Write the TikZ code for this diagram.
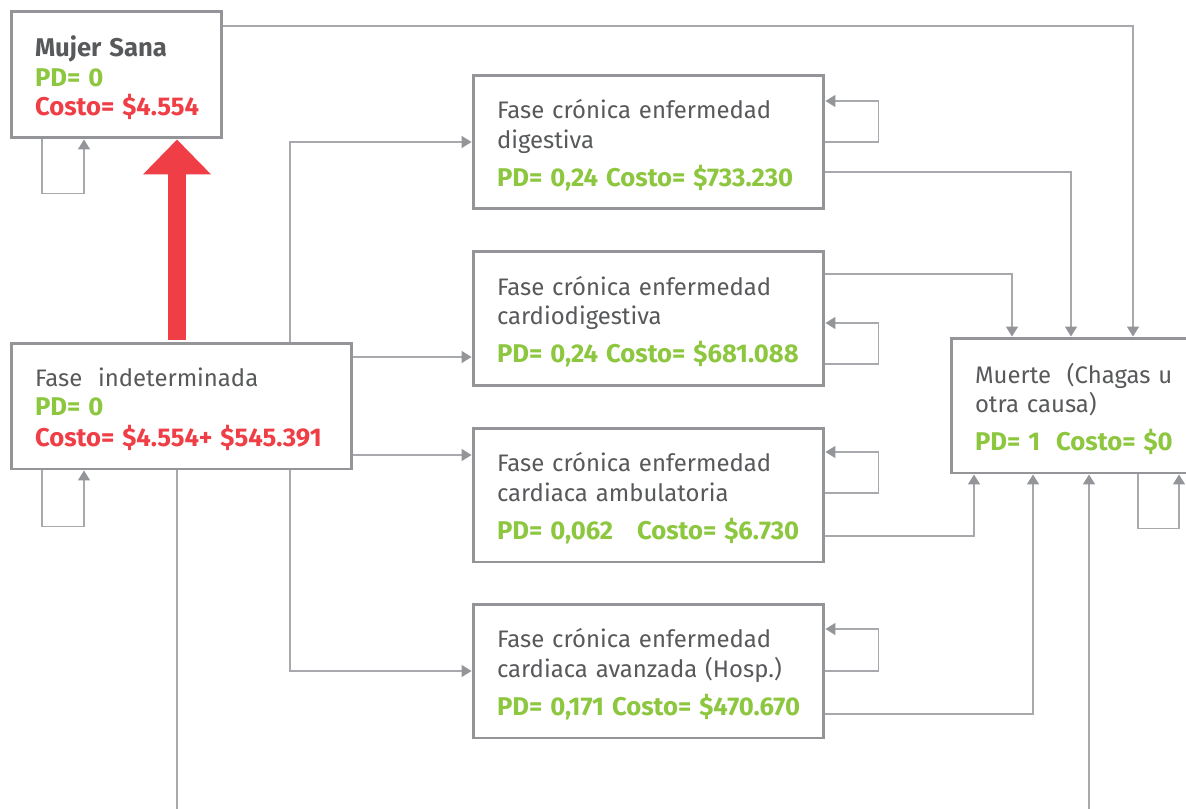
\documentclass[tikz,border=0pt]{standalone}
\usepackage{fontspec}
\setmainfont{Fira Sans}
\usetikzlibrary{arrows.meta}
\definecolor{verde}{HTML}{8DC63F}
\definecolor{rojo}{HTML}{EF3E46}
\definecolor{texto}{HTML}{58595B}
\definecolor{borde}{HTML}{939598}
\definecolor{linea}{HTML}{A7A9AC}
\tikzset{
  caja/.style={draw=borde, line width=1.7pt, fill=white, align=left, text=texto,
    inner xsep=0.48cm, inner ysep=0pt, font=\fontsize{13.6}{16.6}\selectfont,
    execute at end node={\par\vspace*{-3.6pt}}},
  cronica/.style={caja, minimum width=7.02cm, text width=6.06cm, minimum height=2.68cm},
  link/.style={draw=linea, line width=0.85pt, -{Triangle[length=0.2cm, width=0.24cm, color=borde]}},
  flecha/.style={draw=rojo, line width=0.36cm, -{Triangle[length=0.7cm, width=1.32cm]}, shorten <=1pt}
}
\newcommand{\negrita}[1]{\mbox{\fontsize{14.6}{16.6}\selectfont\bfseries #1}}
\newcommand{\pd}[1]{\textcolor{verde}{\negrita{#1}}}
\newcommand{\costo}[1]{\textcolor{rojo}{\negrita{#1}}}
\begin{document}
\begin{tikzpicture}[x=0.02cm, y=-0.02cm]
\useasboundingbox[fill=white] (0,0) rectangle (1186,808);

% estados
\node[caja, minimum width=4.22cm, text width=3.26cm, minimum height=2.54cm] (sana) at (116.5,74.5)
  {\negrita{Mujer Sana}\\ \pd{PD= 0}\\ \costo{Costo= \$4.554}};
\node[caja, minimum width=6.82cm, text width=5.86cm, minimum height=2.52cm] (indet) at (181.5,406)
  {Fase~ indeterminada\\ \pd{PD= 0}\\[1pt] \costo{Costo= \$4.554+ \$545.391}};
\node[cronica] (dig) at (648.5,142)
  {Fase crónica enfermedad\\ digestiva\\[5pt] \pd{PD= 0,24 Costo= \$733.230}};
\node[cronica] (cardig) at (648.5,318.5)
  {Fase crónica enfermedad\\ cardiodigestiva\\[5pt] \pd{PD= 0,24 Costo= \$681.088}};
\node[cronica] (amb) at (648.5,495)
  {Fase crónica enfermedad\\ cardiaca ambulatoria\\[5pt] \pd{PD= 0,062~~ Costo= \$6.730}};
\node[cronica] (avz) at (648.5,671)
  {Fase crónica enfermedad\\ cardiaca avanzada (Hosp.)\\[5pt] \pd{PD= 0,171 Costo= \$470.670}};
\node[caja, minimum width=5.0cm, text width=4.04cm, minimum height=2.7cm] (muerte) at (1076,405.5)
  {Muerte~ (Chagas u\\ otra causa)\\[5pt] \pd{PD= 1~ Costo= \$0}};

% curacion
\draw[flecha] (indet.north -| 177,0) -- (sana.south -| 177,0);

% permanencia
\draw[link] (sana.south -| 42,0) -- ++(0,54) -| (sana.south -| 84,0);
\draw[link] (indet.south -| 42,0) -- ++(0,56) -| (indet.south -| 84,0);
\foreach \n/\ya/\yb in {dig/142/101, cardig/364/323, amb/493/452, avz/671/629}
  \draw[link] (\n.east |- 0,\ya) -- ++(53,0) |- (\n.east |- 0,\yb);
\draw[link] (muerte.south -| 1138,0) -- ++(0,54) -| (muerte.south -| 1179,0);

% progresion
\draw[link] (indet.north -| 290,0) |- (dig.west);
\draw[link] (indet.east |- 0,357) -- (cardig.west |- 0,357);
\draw[link] (indet.east |- 0,455) -- (amb.west |- 0,455);
\draw[link] (indet.south -| 290,0) |- (avz.west);

% muerte
\draw[link] (sana.east |- 0,26) -| (muerte.north -| 1133,0);
\draw[link] (dig.east |- 0,172) -| (muerte.north -| 1071,0);
\draw[link] (cardig.east |- 0,274) -| (muerte.north -| 1012,0);
\draw[link] (amb.east |- 0,536) -| (muerte.south -| 974,0);
\draw[link] (avz.east |- 0,714) -| (muerte.south -| 1033,0);
\draw[link] (indet.south -| 177,0) -- (177,840) -| (muerte.south -| 1089,0);
\end{tikzpicture}
\end{document}
